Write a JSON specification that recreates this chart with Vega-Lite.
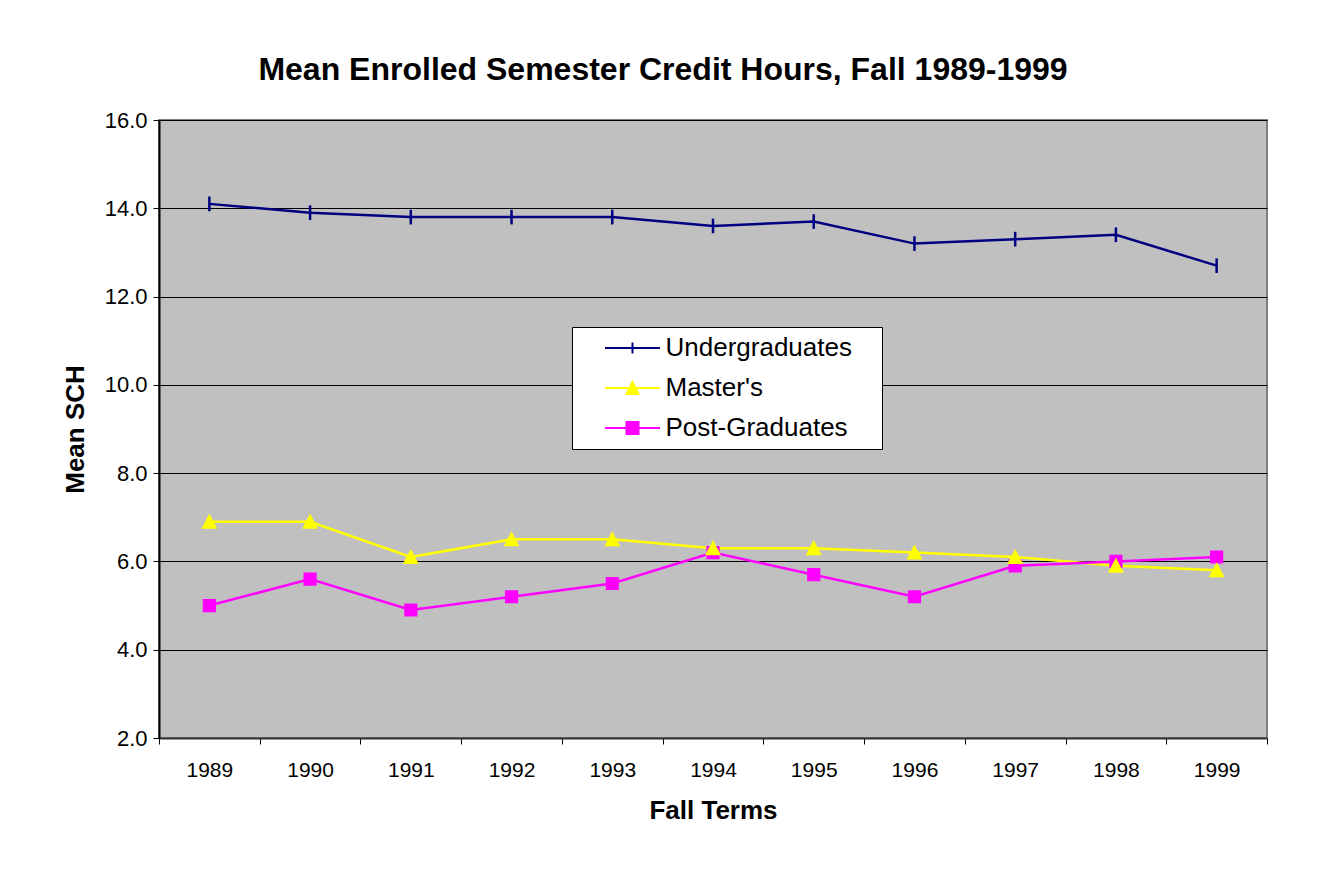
{
  "$schema": "https://vega.github.io/schema/vega-lite/v6.json",
  "width": 1108,
  "height": 618,
  "autosize": {"type": "none"},
  "padding": {"left": 159, "top": 120, "right": 50, "bottom": 148},
  "background": "white",
  "title": {
    "text": "Mean Enrolled Semester Credit Hours, Fall 1989-1999",
    "font": "Liberation Sans",
    "fontSize": 32,
    "fontWeight": "bold",
    "color": "black",
    "anchor": "middle",
    "frame": "group",
    "dx": -50,
    "baseline": "alphabetic",
    "offset": -3
  },
  "config": {
    "view": {"fill": "#C0C0C0", "stroke": "#808080", "strokeWidth": 2},
    "axis": {
      "labelFont": "Liberation Sans",
      "titleFont": "Liberation Sans",
      "labelColor": "black",
      "titleColor": "black",
      "titleFontWeight": "bold",
      "titleFontSize": 26,
      "labelFontSize": 21,
      "tickColor": "black",
      "domainColor": "black",
      "tickSize": 6,
      "tickWidth": 1
    }
  },
  "data": {
    "values": [
      {"year": 1989, "series": "Undergraduates", "sch": 14.1},
      {"year": 1990, "series": "Undergraduates", "sch": 13.9},
      {"year": 1991, "series": "Undergraduates", "sch": 13.8},
      {"year": 1992, "series": "Undergraduates", "sch": 13.8},
      {"year": 1993, "series": "Undergraduates", "sch": 13.8},
      {"year": 1994, "series": "Undergraduates", "sch": 13.6},
      {"year": 1995, "series": "Undergraduates", "sch": 13.7},
      {"year": 1996, "series": "Undergraduates", "sch": 13.2},
      {"year": 1997, "series": "Undergraduates", "sch": 13.3},
      {"year": 1998, "series": "Undergraduates", "sch": 13.4},
      {"year": 1999, "series": "Undergraduates", "sch": 12.7},
      {"year": 1989, "series": "Master's", "sch": 6.9},
      {"year": 1990, "series": "Master's", "sch": 6.9},
      {"year": 1991, "series": "Master's", "sch": 6.1},
      {"year": 1992, "series": "Master's", "sch": 6.5},
      {"year": 1993, "series": "Master's", "sch": 6.5},
      {"year": 1994, "series": "Master's", "sch": 6.3},
      {"year": 1995, "series": "Master's", "sch": 6.3},
      {"year": 1996, "series": "Master's", "sch": 6.2},
      {"year": 1997, "series": "Master's", "sch": 6.1},
      {"year": 1998, "series": "Master's", "sch": 5.9},
      {"year": 1999, "series": "Master's", "sch": 5.8},
      {"year": 1989, "series": "Post-Graduates", "sch": 5.0},
      {"year": 1990, "series": "Post-Graduates", "sch": 5.6},
      {"year": 1991, "series": "Post-Graduates", "sch": 4.9},
      {"year": 1992, "series": "Post-Graduates", "sch": 5.2},
      {"year": 1993, "series": "Post-Graduates", "sch": 5.5},
      {"year": 1994, "series": "Post-Graduates", "sch": 6.2},
      {"year": 1995, "series": "Post-Graduates", "sch": 5.7},
      {"year": 1996, "series": "Post-Graduates", "sch": 5.2},
      {"year": 1997, "series": "Post-Graduates", "sch": 5.9},
      {"year": 1998, "series": "Post-Graduates", "sch": 6.0},
      {"year": 1999, "series": "Post-Graduates", "sch": 6.1}
    ]
  },
  "encoding": {
    "x": {
      "field": "year",
      "type": "quantitative",
      "scale": {"domain": [1988.5, 1999.5], "nice": false, "zero": false},
      "axis": {
        "title": "Fall Terms",
        "values": [1988.5, 1989.5, 1990.5, 1991.5, 1992.5, 1993.5, 1994.5, 1995.5, 1996.5, 1997.5, 1998.5, 1999.5],
        "labelExpr": "datum.value > 1999 ? '' : format(datum.value + 0.5, 'd')",
        "labelOffset": 50.36,
        "labelFlush": false,
        "labelOverlap": false,
        "labelPadding": 15,
        "titlePadding": 17,
        "grid": false,
        "domainColor": "#333333",
        "domainWidth": 2
      }
    },
    "y": {
      "field": "sch",
      "type": "quantitative",
      "scale": {"domain": [2, 16], "nice": false, "zero": false},
      "axis": {
        "title": "Mean SCH",
        "values": [2, 4, 6, 8, 10, 12, 14, 16],
        "format": ".1f",
        "labelFontSize": 22,
        "grid": true,
        "gridColor": "black",
        "gridWidth": 1,
        "gridOpacity": 1,
        "labelPadding": 6,
        "titlePadding": 16,
        "domainWidth": 2
      }
    }
  },
  "layer": [
    {
      "mark": {"type": "line", "strokeWidth": 2.5},
      "encoding": {
        "color": {
          "field": "series",
          "type": "nominal",
          "scale": {"domain": ["Undergraduates", "Master's", "Post-Graduates"], "range": ["#000080", "#FFFF00", "#FF00FF"]},
          "legend": {
            "title": " ",
            "titleOrient": "right",
            "titleFontSize": 8,
            "titlePadding": 22,
            "orient": "none",
            "legendX": 413,
            "legendY": 207,
            "fillColor": "white",
            "strokeColor": "black",
            "padding": 8,
            "rowPadding": 14,
            "symbolSize": 400,
            "symbolOffset": 39.5,
            "labelOffset": 20,
            "labelLimit": 400,
            "labelFont": "Liberation Sans",
            "labelFontSize": 26,
            "labelColor": "black",
            "encode": {
              "symbols": {
                "update": {
                  "shape": {"signal": "datum.value === 'Undergraduates' ? 'M-2.75,0H2.75M0,-0.55V0.55' : datum.value === 'Post-Graduates' ? 'M-2.75,0H2.75M-0.6,-0.6H0.6V0.6H-0.6Z' : 'M-2.75,0H2.75M0,-0.6L0.6,0.6H-0.6Z'"},
                  "stroke": {"signal": "scale('color', datum.value)"},
                  "fill": {"signal": "scale('color', datum.value)"},
                  "strokeWidth": {"value": 2},
                  "size": {"value": 400},
                  "opacity": {"value": 1}
                }
              }
            }
          }
        }
      }
    },
    {
      "transform": [{"filter": "datum.series === 'Undergraduates'"}],
      "mark": {"type": "point", "shape": "M0,-1.05V1.05", "filled": false, "size": 196, "opacity": 1, "strokeWidth": 2.5, "stroke": "#000080"}
    },
    {
      "transform": [{"filter": "datum.series === 'Post-Graduates'"}],
      "mark": {"type": "point", "shape": "M-0.8,-0.8H0.8V0.8H-0.8Z", "filled": true, "size": 196, "opacity": 1, "strokeWidth": 2, "fill": "#FF00FF", "stroke": "#FF00FF"}
    },
    {
      "transform": [{"filter": "datum.series !== 'Undergraduates' && datum.series !== 'Post-Graduates'"}],
      "mark": {"type": "point", "shape": "M0,-0.85L0.9,0.85H-0.9Z", "filled": true, "size": 196, "opacity": 1, "strokeWidth": 2, "fill": "#FFFF00", "stroke": "#FFFF00"}
    }
  ]
}
